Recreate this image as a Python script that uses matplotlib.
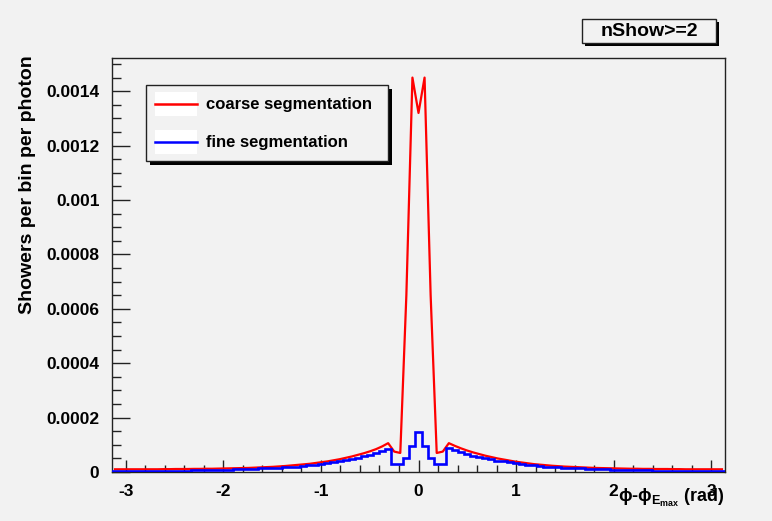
import numpy as np
import matplotlib
matplotlib.use("Agg")
import matplotlib.pyplot as plt
from matplotlib.patches import Rectangle
from matplotlib.lines import Line2D
from matplotlib.ticker import MultipleLocator, FixedLocator

plt.rcParams['font.family'] = ['Liberation Sans', 'DejaVu Sans']
plt.rcParams['font.weight'] = 'bold'
plt.rcParams['mathtext.fontset'] = 'custom'
plt.rcParams['mathtext.rm'] = 'Liberation Sans:bold'
plt.rcParams['mathtext.it'] = 'Liberation Sans:bold'
plt.rcParams['mathtext.bf'] = 'Liberation Sans:bold'
plt.rcParams['mathtext.sf'] = 'Liberation Sans:bold'

# ---------------- data (values in units of 1e-5 showers per bin per photon) -------------
n_bins = 101
x_min, x_max = -np.pi, np.pi

# bin 0 (centre, phi = 0) and bins +1 .. +50
fine_center = 14.8
fine_right = [9.5, 5.0, 3.0, 2.8, 8.8, 8.0, 7.3, 6.6, 6.0, 5.5,
              5.0, 4.6, 4.2, 3.9, 3.6, 3.3, 3.0, 2.7, 2.4, 2.2,
              2.0, 1.85, 1.7, 1.6, 1.5, 1.4, 1.3, 1.2, 1.1, 1.0,
              0.95, 0.9, 0.85, 0.8, 0.75, 0.7, 0.65, 0.6, 0.55, 0.5,
              0.5, 0.45, 0.45, 0.4, 0.4, 0.35, 0.35, 0.3, 0.3, 0.3]
# bins -1 .. -50 (moving away from centre)
fine_left = [9.5, 5.0, 3.0, 2.8, 8.6, 7.8, 7.0, 6.3, 5.7, 5.2,
             4.7, 4.3, 3.9, 3.5, 3.2, 2.9, 2.6, 2.4, 2.2, 2.0,
             1.85, 1.7, 1.6, 1.5, 1.4, 1.3, 1.2, 1.1, 1.0, 0.95,
             0.9, 0.85, 0.8, 0.75, 0.7, 0.65, 0.6, 0.55, 0.5, 0.5,
             0.45, 0.45, 0.4, 0.4, 0.35, 0.35, 0.3, 0.3, 0.3, 0.3]

coarse_center = 132.0
coarse_right = [145.0, 65.0, 7.0, 7.5, 10.6, 9.6, 8.7, 7.9, 7.2, 6.6,
                6.0, 5.5, 5.0, 4.6, 4.2, 3.8, 3.5, 3.2, 2.9, 2.7,
                2.5, 2.3, 2.15, 2.0, 1.9, 1.8, 1.7, 1.6, 1.5, 1.45,
                1.4, 1.35, 1.3, 1.25, 1.2, 1.2, 1.15, 1.15, 1.1, 1.1,
                1.1, 1.05, 1.05, 1.0, 1.0, 1.0, 1.0, 1.0, 1.0, 1.0]
coarse_left = [145.0, 65.0, 7.0, 7.5, 10.6, 9.4, 8.4, 7.6, 6.9, 6.3,
               5.7, 5.2, 4.7, 4.3, 3.9, 3.6, 3.3, 3.0, 2.8, 2.6,
               2.4, 2.2, 2.05, 1.9, 1.8, 1.7, 1.6, 1.5, 1.45, 1.4,
               1.35, 1.3, 1.25, 1.2, 1.2, 1.15, 1.15, 1.1, 1.1, 1.1,
               1.05, 1.05, 1.0, 1.0, 1.0, 1.0, 1.0, 1.0, 1.0, 1.0]

y_ticks = [0, 0.0002, 0.0004, 0.0006, 0.0008, 0.001, 0.0012, 0.0014]
y_tick_labels = ["0", "0.0002", "0.0004", "0.0006", "0.0008", "0.001", "0.0012", "0.0014"]
x_ticks = [-3, -2, -1, 0, 1, 2, 3]
x_tick_labels = ["-3", "-2", "-1", "0", "1", "2", "3"]
legend_labels = ["coarse segmentation", "fine segmentation"]
title_text = "nShow>=2"

fine = np.array(fine_left[::-1] + [fine_center] + fine_right) * 1e-5
coarse = np.array(coarse_left[::-1] + [coarse_center] + coarse_right) * 1e-5
edges = np.linspace(x_min, x_max, n_bins + 1)
centers = 0.5 * (edges[:-1] + edges[1:])

# ---------------- figure ----------------
W, H = 772, 521
BG = '#f2f2f2'
fig = plt.figure(figsize=(W / 100, H / 100), dpi=100, facecolor=BG)

def fx(px):
    return px / W

def fy(py):
    return 1 - py / H

ax_l, ax_r, ax_t, ax_b = 112, 725, 58, 472
ax = fig.add_axes([fx(ax_l), fy(ax_b), fx(ax_r) - fx(ax_l), fy(ax_t) - fy(ax_b)])
ax.set_facecolor(BG)

ax.plot(centers, coarse, color='#ff0000', lw=1.6, solid_joinstyle='round', zorder=3)
ax.stairs(fine, edges, color='#0000ff', lw=1.9, zorder=4)

ax.set_xlim(x_min, x_max)
ax.set_ylim(0, 0.001522)

ax.xaxis.set_major_locator(FixedLocator(x_ticks))
ax.set_xticklabels(x_tick_labels)
ax.xaxis.set_minor_locator(MultipleLocator(0.2))
ax.yaxis.set_major_locator(FixedLocator(y_ticks))
ax.set_yticklabels(y_tick_labels)
ax.yaxis.set_minor_locator(MultipleLocator(0.00005))

edge_col = '#222222'
ax.tick_params(axis='both', which='both', direction='in', colors=edge_col,
               labelcolor='black', width=1.0, top=False, right=False)
ax.tick_params(axis='x', which='major', length=9.0, pad=9, labelsize=12.5)
ax.tick_params(axis='x', which='minor', length=5.0)
ax.tick_params(axis='y', which='major', length=13.0, pad=9, labelsize=12.5)
ax.tick_params(axis='y', which='minor', length=6.5)
for lab in ax.get_xticklabels() + ax.get_yticklabels():
    lab.set_fontweight('bold')
for s in ax.spines.values():
    s.set_color(edge_col)
    s.set_linewidth(1.0)

# axis titles (ROOT style: aligned to the end of the axis)
fig.text(fx(28), fy(55), "Showers per bin per photon", rotation=90,
         ha='center', va='top', fontsize=14, fontweight='bold')
fig.text(fx(724), fy(498), r"$\mathrm{\phi}$-$\mathrm{\phi_{E_{max}}}$ (rad)",
         ha='right', va='center', fontsize=13, fontweight='bold')

# legend box with shadow
def shadow_box(x0, y0, x1, y1, off):
    fig.patches.append(Rectangle((fx(x0 + off), fy(y1 + off)), fx(x1 - x0), fy(y0) - fy(y1),
                                 transform=fig.transFigure, facecolor='black',
                                 edgecolor='black', lw=0, zorder=5))
    fig.patches.append(Rectangle((fx(x0), fy(y1)), fx(x1 - x0), fy(y0) - fy(y1),
                                 transform=fig.transFigure, facecolor=BG,
                                 edgecolor=edge_col, lw=1.0, zorder=6))

shadow_box(146, 85, 388, 161, 4)
for i, (lab, col) in enumerate(zip(legend_labels, ['#ff0000', '#0000ff'])):
    yc = 104 + i * 38
    fig.patches.append(Rectangle((fx(155), fy(yc + 12)), fx(42), fy(yc - 12) - fy(yc + 12),
                                 transform=fig.transFigure, facecolor='white',
                                 edgecolor='none', zorder=7))
    fig.lines.append(Line2D([fx(155), fx(197)], [fy(yc), fy(yc)], transform=fig.transFigure,
                            color=col, lw=1.8, zorder=8))
    fig.text(fx(206), fy(yc), lab, ha='left', va='center', fontsize=12,
             fontweight='bold', zorder=9)

# title box
shadow_box(582, 19, 716, 43, 3)
fig.text(fx(649), fy(31.5), title_text, ha='center', va='center', fontsize=14,
         fontweight='bold', zorder=9)

fig.savefig("out.png", dpi=100, facecolor=BG)
